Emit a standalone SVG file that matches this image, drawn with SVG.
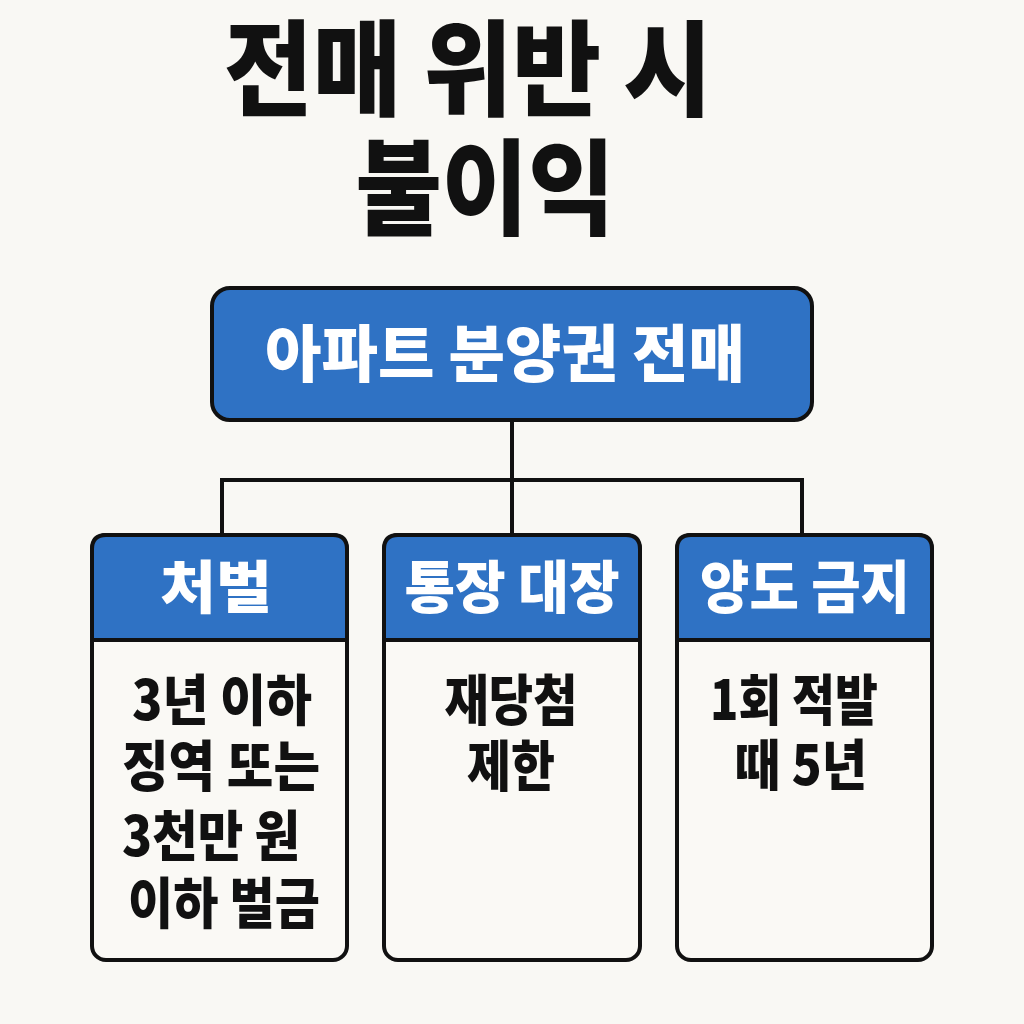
<svg xmlns="http://www.w3.org/2000/svg" width="1024" height="1024" viewBox="0 0 1024 1024">
<defs>
<style>
.bg{fill:#f9f8f4}
.box{fill:#2f72c4;stroke:#111;stroke-width:4}
.card{fill:#faf9f5;stroke:#111;stroke-width:4}
.hdr{fill:#2f72c4;stroke:#111;stroke-width:4}
.conn{fill:none;stroke:#111;stroke-width:4}
text{font-family:"Noto Sans CJK KR","Noto Sans",sans-serif;font-weight:900;text-anchor:middle}
.title{font-size:104px;fill:#111}
.wt{fill:#fff}
.hd{font-size:57px}
.body{font-size:55px;fill:#111}
</style>
</defs>
<rect class="bg" x="0" y="0" width="1024" height="1024"/>
<g id="title">
<text class="title" x="468" y="108" textLength="488" lengthAdjust="spacingAndGlyphs">전매 위반 시</text>
<text class="title" x="485" y="227" textLength="259" lengthAdjust="spacingAndGlyphs">불이익</text>
</g>
<g id="connectors">
<path class="conn" d="M512 420 V480 M222 480 H802 M222 478 V537 M512 480 V537 M802 478 V537"/>
</g>
<g id="root">
<rect class="box" x="212" y="288" width="600" height="132" rx="18"/>
<text class="wt" x="505" y="377" font-size="62" textLength="480" lengthAdjust="spacingAndGlyphs">아파트 분양권 전매</text>
</g>
<g id="card1">
<rect class="card" x="92" y="535" width="255" height="425" rx="14"/>
<path class="hdr" d="M92 640 V549 Q92 535 106 535 H333 Q347 535 347 549 V640 Z"/>
<text class="wt hd" x="216" y="608" textLength="112" lengthAdjust="spacingAndGlyphs">처벌</text>
<text class="body" x="222" y="720" textLength="180" lengthAdjust="spacingAndGlyphs">3년 이하</text>
<text class="body" x="221" y="786" textLength="198" lengthAdjust="spacingAndGlyphs">징역 또는</text>
<text class="body" x="211" y="856" textLength="178" lengthAdjust="spacingAndGlyphs">3천만 원</text>
<text class="body" x="224" y="923" textLength="192" lengthAdjust="spacingAndGlyphs">이하 벌금</text>
</g>
<g id="card2">
<rect class="card" x="384" y="535" width="256" height="425" rx="14"/>
<path class="hdr" d="M384 640 V549 Q384 535 398 535 H626 Q640 535 640 549 V640 Z"/>
<text class="wt hd" x="512" y="608" textLength="215" lengthAdjust="spacingAndGlyphs">통장 대장</text>
<text class="body" x="511" y="720" textLength="133" lengthAdjust="spacingAndGlyphs">재당첨</text>
<text class="body" x="511" y="786" textLength="88" lengthAdjust="spacingAndGlyphs">제한</text>
</g>
<g id="card3">
<rect class="card" x="677" y="535" width="255" height="425" rx="14"/>
<path class="hdr" d="M677 640 V549 Q677 535 691 535 H918 Q932 535 932 549 V640 Z"/>
<text class="wt hd" x="805" y="608" textLength="210" lengthAdjust="spacingAndGlyphs">양도 금지</text>
<text class="body" x="794" y="720" textLength="168" lengthAdjust="spacingAndGlyphs">1회 적발</text>
<text class="body" x="801" y="785" textLength="132" lengthAdjust="spacingAndGlyphs">때 5년</text>
</g>
</svg>
